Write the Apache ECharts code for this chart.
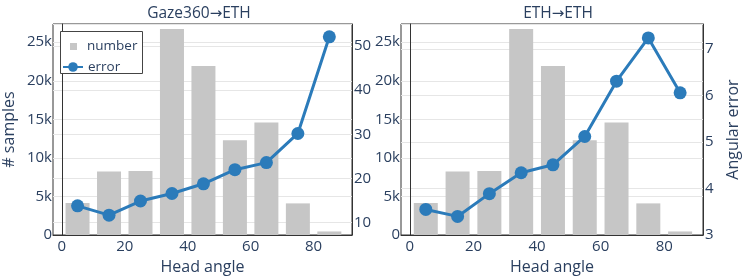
<!DOCTYPE html>
<html>
<head>
<meta charset="utf-8">
<script src="https://cdn.jsdelivr.net/npm/echarts@6/dist/echarts.min.js"></script>
<style>html,body{margin:0;padding:0;background:#fff}#c{width:747px;height:280px}</style>
</head>
<body>
<div id="c"></div>
<script>
const headAngles = [5, 15, 25, 35, 45, 55, 65, 75, 85];
const sampleCounts = [4150, 8250, 8300, 26700, 21900, 12300, 14600, 4100, 460];
const errorGaze360 = [13.8, 11.7, 14.9, 16.6, 18.8, 22.0, 23.6, 30.2, 52.1];
const errorETH = [3.55, 3.40, 3.89, 4.34, 4.51, 5.12, 6.31, 7.24, 6.06];
const xTicks = [0, 20, 40, 60, 80];
const titleParts = [['Gaze360', 'ETH'], ['ETH', 'ETH']];
const rightTicksA = [10, 20, 30, 40, 50];

const FONT = '"Open Sans", sans-serif';
const TXT = '#2a3f5f';
const GRID = '#e6e6e6';
const BAR = '#c6c6c6';
const LINE = '#2b7bba';
const TICK = 15;
const TITLE = 16;

const chart = echarts.init(document.getElementById('c'), null, {renderer: 'canvas'});

function kfmt(v) { return v === 0 ? '0' : (v / 1000) + 'k'; }
const pairs = (ys) => headAngles.map((x, i) => [x, ys[i]]);

const grids = [
  {left: 49, right: 395, top: 24, bottom: 36},
  {left: 401, right: 44, top: 24, bottom: 36}
];

const titleRich = {
  a: {fontFamily: FONT, color: TXT, fontSize: 15.5, fontWeight: 'normal'},
  b: {fontFamily: '"DejaVu Sans", sans-serif', color: TXT, fontSize: 15, fontWeight: 'normal'}
};
const titleStyle = {fontFamily: FONT, color: TXT, fontSize: 15.5, fontWeight: 'normal', rich: titleRich};
const titleText = (p) => '{a|' + p[0] + '}{b|\u2192}{a|' + p[1] + '}';

const option = {
  animation: false,
  textStyle: {fontFamily: FONT, color: TXT},
  title: [
    {text: titleText(titleParts[0]), left: 194, top: 1, textAlign: 'center', textStyle: titleStyle},
    {text: titleText(titleParts[1]), left: 553, top: 1, textAlign: 'center', textStyle: titleStyle}
  ],
  grid: grids.map(g => Object.assign({show: true, borderColor: '#333', borderWidth: 1, backgroundColor: 'transparent'}, g)),
  legend: [
    {left: 62, top: 39.5, itemWidth: 20, itemHeight: 12,
     data: [{name: 'number', icon: 'path://M0,0M20,12M8,2.5h7v7h-7z'}],
     textStyle: {fontFamily: FONT, color: TXT, fontSize: 13.5}, padding: 0, z: 20},
    {left: 62, top: 60, itemWidth: 20, itemHeight: 12, data: [{name: 'error'}],
     textStyle: {fontFamily: FONT, color: TXT, fontSize: 13.5}, padding: 0, z: 20}
  ],
  graphic: [
    {type: 'rect', z: 15, shape: {x: 60.5, y: 31.5, width: 82, height: 42}, style: {fill: '#fff', stroke: '#444', lineWidth: 1}}
  ],
  xAxis: [0, 1].map(i => ({
    type: 'value', gridIndex: i, min: -2.8, max: 92.2,
    name: 'Head angle', nameLocation: 'middle', nameGap: 24,
    nameTextStyle: {fontFamily: FONT, color: TXT, fontSize: TITLE},
    axisLine: {show: true, lineStyle: {color: '#333'}},
    axisTick: {show: false, customValues: xTicks},
    axisLabel: {customValues: xTicks, fontFamily: FONT, color: TXT, fontSize: TICK, margin: 4},
    splitLine: {show: false}
  })),
  yAxis: [
    {type: 'value', gridIndex: 0, min: 0, max: 27360, interval: 5000, position: 'left',
     name: '# samples', nameLocation: 'middle', nameGap: 36, nameRotate: 90,
     nameTextStyle: {fontFamily: FONT, color: TXT, fontSize: TITLE},
     axisLine: {show: true, lineStyle: {color: '#333'}}, axisTick: {show: false},
     axisLabel: {formatter: kfmt, fontFamily: FONT, color: TXT, fontSize: TICK, margin: 1, showMaxLabel: false},
     splitLine: {show: true, lineStyle: {color: GRID, width: 1}}},
    {type: 'value', gridIndex: 0, min: 7.2, max: 55, position: 'right',
     axisLine: {show: true, lineStyle: {color: '#333'}}, axisTick: {show: false, customValues: rightTicksA},
     axisLabel: {customValues: rightTicksA, fontFamily: FONT, color: TXT, fontSize: TICK, margin: 2},
     splitLine: {show: true, lineStyle: {color: GRID, width: 1}}},
    {type: 'value', gridIndex: 1, min: 0, max: 27360, interval: 5000, position: 'left',
     axisLine: {show: true, lineStyle: {color: '#333'}}, axisTick: {show: false},
     axisLabel: {formatter: kfmt, fontFamily: FONT, color: TXT, fontSize: TICK, margin: 1, showMaxLabel: false},
     splitLine: {show: true, lineStyle: {color: GRID, width: 1}}},
    {type: 'value', gridIndex: 1, min: 3, max: 7.54, interval: 1, position: 'right',
     name: 'Angular error', nameLocation: 'middle', nameGap: 22, nameRotate: 90,
     nameTextStyle: {fontFamily: FONT, color: TXT, fontSize: TITLE},
     axisLine: {show: true, lineStyle: {color: '#333'}}, axisTick: {show: false},
     axisLabel: {fontFamily: FONT, color: TXT, fontSize: TICK, margin: 2, showMaxLabel: false},
     splitLine: {show: true, lineStyle: {color: GRID, width: 1}}}
  ],
  series: [
    {name: 'number', type: 'bar', xAxisIndex: 0, yAxisIndex: 0, data: pairs(sampleCounts), barWidth: 24,
     itemStyle: {color: BAR}, z: 2},
    {name: 'error', type: 'line', xAxisIndex: 0, yAxisIndex: 1, data: pairs(errorGaze360),
     symbol: 'circle', symbolSize: 13, lineStyle: {color: LINE, width: 3}, itemStyle: {color: LINE}, z: 3},
    {name: 'number', type: 'bar', xAxisIndex: 1, yAxisIndex: 2, data: pairs(sampleCounts), barWidth: 24,
     itemStyle: {color: BAR}, z: 2},
    {name: 'error', type: 'line', xAxisIndex: 1, yAxisIndex: 3, data: pairs(errorETH),
     symbol: 'circle', symbolSize: 13, lineStyle: {color: LINE, width: 3}, itemStyle: {color: LINE}, z: 3}
  ]
};
chart.setOption(option);
</script>
</body>
</html>
